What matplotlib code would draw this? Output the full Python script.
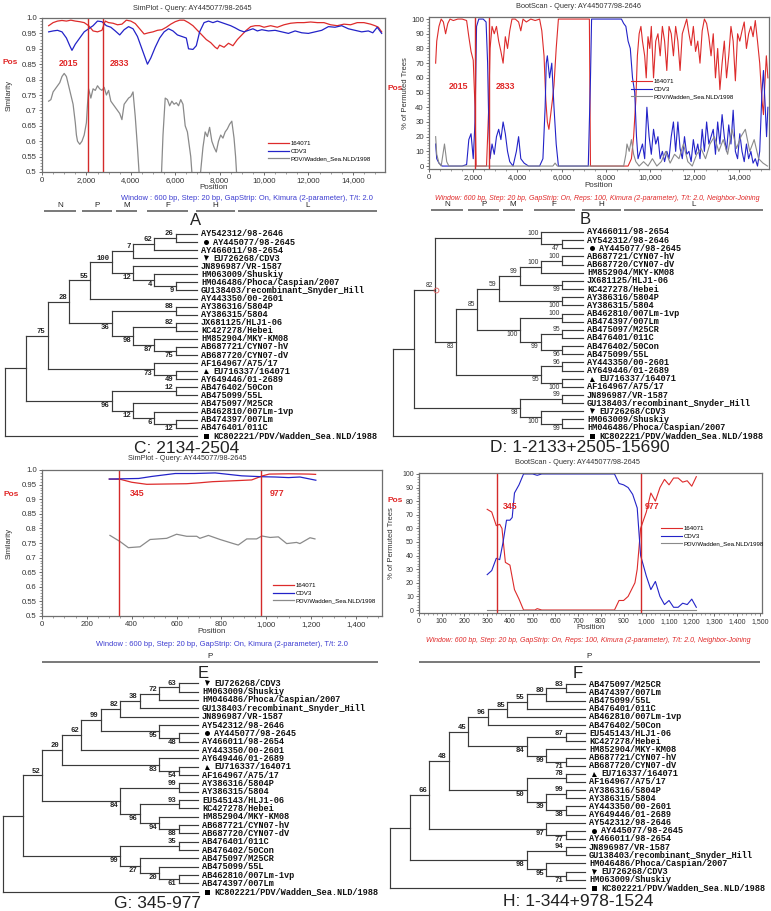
import numpy as np
import matplotlib
matplotlib.use("Agg")
import matplotlib.pyplot as plt
from matplotlib.ticker import MultipleLocator, FuncFormatter
from matplotlib.transforms import blended_transform_factory

plt.rcParams["font.family"] = ["Liberation Sans", "DejaVu Sans"]

FIG_W, FIG_H = 771, 911
nan = np.nan

series_names = ["164071", "CDV3", "PDV/Wadden_Sea.NLD/1998"]
series_colors = ["#dd2b2b", "#2323c8", "#8a8a8a"]

# ---------------- panel A : SimPlot, whole genome ----------------
a_red_x = [300, 500, 700, 900, 1100, 1300, 1500, 1700, 1900, 2100, 2300, 2500, 2700, 2850, 3000, 3200,
           3400, 3600, 3800, 4000, 4200, 4400, 4600, 4800, 5000, 5200, 5400, 5600, 5800, 6000, 6200,
           6400, 6600, 6800, 7000, 7200, 7400, 7600, 7800, 7900, 8000, 8200, 8400, 8600, 8800, 9000,
           9200, 9400, 9600, 9800, 10000, 10300, 10600, 10900, 11200, 11500, 11800, 12100, 12400,
           12700, 13000, 13300, 13600, 13900, 14200, 14500, 14800, 15000, 15150, 15300]
a_red_y = [.975, .985, .99, .992, .99, .993, .99, .988, .985, .975, .958, .955, .96, .99, .985, .983,
           .978, .98, .993, .99, .982, .965, .948, .952, .955, .96, .962, .97, .98, .988, .993,
           .993, .985, .975, .96, .945, .93, .92, .905, .9, .912, .905, .918, .91, .93, .945,
           .96, .972, .975, .975, .97, .975, .97, .978, .983, .985, .985, .987, .985,
           .985, .978, .975, .98, .978, .985, .985, .98, .975, .97, .955]
a_blue_x = [300, 500, 700, 900, 1100, 1250, 1350, 1500, 1700, 1900, 2100, 2300, 2500, 2700, 2900, 3100,
            3300, 3500, 3700, 3900, 4100, 4300, 4500, 4650, 4750, 4900, 5100, 5300, 5500, 5700, 5900,
            6100, 6300, 6500, 6600, 6800, 6950, 7100, 7300, 7500, 7700, 7900, 8100, 8300, 8500, 8700,
            8900, 9100, 9300, 9500, 9700, 9900, 10200, 10500, 10800, 11100, 11400, 11700, 12000, 12300,
            12600, 12900, 13200, 13500, 13800, 14100, 14400, 14700, 14900, 15100, 15300]
a_blue_y = [.955, .958, .96, .955, .935, .91, .895, .915, .935, .955, .965, .975, .99, .988, .975, .97,
            .958, .945, .962, .972, .965, .94, .9, .87, .85, .87, .905, .935, .955, .965, .958,
            .945, .94, .935, .9, .898, .91, .955, .985, .99, .985, .99, .985, .98, .975, .968,
            .96, .955, .96, .965, .958, .962, .958, .96, .955, .95, .958, .952, .95, .955,
            .96, .972, .97, .975, .965, .96, .955, .958, .952, .97, .95]
a_gray_x = [300, 400, 500, 600, 700, 800, 900, 1000, 1100, 1200, 1300, 1400, 1500, 1550, 1600, 1700,
            1800, 1900, 2000, 2050, 2100, 2200, 2300, 2400, 2500, 2600, 2700, 2800, 2900, 3000, 3100,
            3200, 3300, 3400, 3500, 3600, 3700, 3800, 3900, 4000, 4100, 4200, 4300, 4380, 4400,
            5380, 5450, 5550, 5650, 5750, 5850, 5950, 6050, 6150, 6250, 6350, 6450, 6550, 6700, 6760, 6800,
            7130, 7250, 7350, 7450, 7550, 7650, 7750, 7850, 7950, 8050, 8150, 8250, 8350, 8450, 8550,
            8650, 8720, 8770]
a_gray_y = [.73, .735, .76, .77, .78, .79, .81, .82, .81, .78, .75, .72, .66, .62, .6, .59,
            .6, .62, .66, .72, .77, .74, .77, .765, .78, .77, .765, .775, .75, .765, .73,
            .72, .71, .70, .69, .67, .72, .73, .74, .745, .76, .68, .58, .49, nan,
            .49, .62, .74, .735, .715, .73, .72, .725, .715, .735, .72, .65, .63, .55, .49, nan,
            .49, .58, .63, .615, .645, .6, .58, .565, .6, .62, .61, .63, .64, .655, .665,
            .61, .55, .49]
a_breaks = [2050, 2740]
a_break_labels = ["2015", "2833"]

# ---------------- panel B : BootScan, whole genome ----------------
b_red_x = [300, 350, 450, 550, 650, 750, 850, 950, 1100, 1300, 1500, 1700, 1800, 1900, 2000, 2080, 2130,
           2300, 2600, 2700, 2760, 2850, 2950, 3050, 3150, 3250, 3350, 3450, 3550, 3650, 3750, 3900,
           4050, 4150, 4250, 4400, 4600, 4800, 5000, 5100, 5200, 5280, 5350, 5420, 5500, 5580, 5650,
           5750, 5850, 6000, 6500, 7000, 7250, 7300, 7500, 8500, 9000, 9150, 9250, 9350, 9420, 9500,
           9580, 9650, 9750, 9820, 9900, 9980, 10050, 10150, 10250, 10350, 10450, 10550, 10650, 10750,
           10850, 10950, 11050, 11150, 11250, 11350, 11450, 11550, 11650, 11750, 11850, 11950, 12050,
           12150, 12250, 12350, 12450, 12550, 12650, 12750, 12850, 12950, 13050, 13150, 13250, 13350,
           13450, 13550, 13650, 13750, 13850, 13950, 14050, 14150, 14250, 14350, 14450, 14550, 14650,
           14750, 14850, 14950, 15050, 15120, 15180, 15250, 15320]
b_red_y = [70, 85, 95, 100, 98, 90, 97, 100, 99, 100, 100, 99, 88, 78, 72, 40, 0,
           0, 0, 40, 80, 95, 90, 95, 85, 78, 70, 88, 80, 92, 100, 100,
           98, 92, 100, 98, 100, 99, 100, 92, 75, 45, 30, 25, 35, 45, 55,
           80, 100, 100, 100, 100, 100, 0, 0, 0, 0, 5, 20, 45, 75, 90,
           95, 85, 75, 60, 88, 80, 95, 60, 85, 90, 75, 95, 85, 65,
           95, 90, 75, 95, 85, 65, 90, 95, 100, 90, 82, 95, 78,
           85, 70, 92, 100, 97, 88, 75, 90, 60, 80, 52, 70, 85,
           60, 75, 95, 85, 58, 90, 85, 92, 98, 80, 90, 95, 88,
           99, 85, 70, 45, 35, 55, 75, 60]
b_blue_x = [300, 350, 450, 600, 1000, 1500, 1700, 1800, 1900, 2000, 2080, 2150, 2250, 2450, 2580, 2650,
            2700, 2760, 2850, 2950, 3050, 3150, 3250, 3350, 3450, 3550, 3650, 3800, 3950, 4050, 4150,
            4300, 4500, 5000, 5150, 5250, 5300, 5350, 5450, 5550, 5650, 5750, 5850, 7200, 7300, 7350,
            8000, 8700, 8800, 8900, 9000, 9100, 9200, 9300, 9380, 9450, 9550, 9650, 9750, 9850, 9950,
            10050, 10150, 10250, 10350, 10450, 10550, 10650, 10750, 10850, 10950, 11050, 11150, 11250,
            11350, 11450, 11550, 11650, 11750, 11850, 11950, 12050, 12150, 12250, 12350, 12450, 12550,
            12650, 12750, 12850, 12950, 13050, 13150, 13250, 13350, 13450, 13550, 13650, 13750, 13850,
            13950, 14050, 14150, 14250, 14350, 14450, 14550, 14650, 14750, 14850, 14950, 15050, 15120,
            15200, 15260, 15320]
b_blue_y = [15, 5, 2, 0, 0, 0, 1, 18, 22, 5, 30, 95, 100, 100, 98, 70,
            30, 5, 15, 8, 20, 25, 18, 30, 22, 10, 3, 0, 10, 20, 5,
            2, 0, 0, 5, 40, 70, 75, 60, 70, 40, 15, 0, 0, 60, 100,
            100, 100, 97, 95, 85, 80, 60, 50, 20, 5, 10, 15, 5, 40, 20,
            8, 25, 15, 20, 5, 10, 3, 10, 5, 20, 30, 10, 30,
            12, 5, 20, 8, 10, 3, 18, 8, 15, 5, 25, 10, 30,
            15, 20, 25, 8, 30, 15, 35, 20, 10, 28, 15, 38, 10,
            5, 22, 10, 3, 15, 5, 10, 2, 5, 0, 10, 50, 65,
            40, 20, 40]
b_gray_x = [300, 350, 450, 550, 700, 800, 900, 1600, 5600, 5700, 5800, 8800, 8900, 8950, 9050, 9150,
            9250, 9350, 9500, 9700, 9900, 10100, 10300, 10500, 10700, 10900, 11100, 11300, 11500, 11700,
            11900, 12100, 12300, 12500, 12700, 12900, 13100, 13300, 13500, 13700, 13900, 14100, 14300,
            14500, 14700, 14900, 15100, 15300]
b_gray_y = [20, 8, 2, 0, 15, 3, 0, 0, 0, 2, 0, 0, 8, 15, 10, 18,
            8, 3, 0, 3, 0, 5, 0, 3, 10, 2, 8, 5, 15, 3,
            0, 8, 12, 5, 15, 20, 10, 18, 8, 25, 12, 20, 25,
            10, 18, 5, 2, 0]
b_breaks = [2060, 2730]

# gene map under the whole-genome plots
gene_names = ["N", "P", "M", "F", "H", "L"]
gene_start = [100, 1780, 3330, 4730, 6920, 8820]
gene_end = [1550, 3150, 4260, 6580, 8680, 15110]

# ---------------- panel E : SimPlot, P gene ----------------
e_red_x = [300, 350, 400, 467, 550, 645, 700, 760, 820, 880, 935, 983, 1013, 1100, 1191, 1220]
e_red_y = [.969, .968, .958, .951, .952, .953, .956, .96, .962, .964, .966, .98, .986, .987, .986, .985]
e_blue_x = [300, 431, 490, 594, 680, 772, 891, 980, 1040, 1099, 1150, 1221]
e_blue_y = [.969, .971, .978, .988, .988, .99, .98, .977, .976, .974, .976, .965]
e_gray_x = [303, 348, 385, 437, 482, 556, 600, 645, 690, 704, 742, 794, 853, 875, 913, 957, 980,
            1017, 1054, 1091, 1135, 1150, 1195, 1217]
e_gray_y = [.776, .755, .734, .737, .762, .766, .78, .773, .773, .766, .776, .762, .748, .743, .764,
            .764, .774, .769, .771, .748, .752, .748, .768, .764]
e_breaks = [345, 977]

# ---------------- panel F : BootScan, P gene ----------------
f_red_x = [300, 320, 340, 355, 365, 380, 400, 420, 440, 460, 510, 520, 540, 860, 880, 900, 920, 950,
           960, 975, 1000, 1020, 1040, 1060, 1080, 1100, 1120, 1140, 1160, 1180, 1200, 1220]
f_red_y = [74, 72, 62, 63, 60, 35, 33, 15, 8, 0, 0, 1, 0, 0, 7, 7, 10, 20,
           30, 60, 72, 86, 80, 90, 96, 92, 97, 97, 94, 95, 91, 98]
f_blue_x = [300, 320, 340, 355, 370, 385, 400, 410, 420, 440, 460, 500, 520, 540, 860, 880, 900, 920,
            940, 960, 975, 1000, 1020, 1040, 1060, 1080, 1100, 1120, 1140, 1160, 1180, 1200, 1220]
f_blue_y = [26, 29, 38, 37, 50, 66, 66, 68, 86, 92, 100, 100, 99, 100, 100, 93, 92, 90,
            85, 75, 40, 25, 15, 21, 10, 4, 7, 2, 2, 5, 4, 8, 2]
f_gray_x = [300, 1220]
f_gray_y = [0, 0]
f_breaks = [345, 977]

p_gene = ("P", 0, 1500)

# ---------------- trees ----------------
tree_c = ("", ("", ("75",
    ("28",
        ("55",
            ("100",
                ("7", ("62", ("26", "AY542312/98-2646", "AY445077/98-2645"), "AY466011/98-2654"), "EU726268/CDV3"),
                ("12", "JN896987/VR-1587",
                    ("4", "HM063009/Shuskiy", ("9", "HM046486/Phoca/Caspian/2007", "GU138403/recombinant_Snyder_Hill")))),
            "AY443350/00-2601"),
        ("36",
            ("88", "AY386316/5804P", "AY386315/5804"),
            ("98", ("82", "JX681125/HLJ1-06", "KC427278/Hebei"),
                   ("87", "HM852904/MKY-KM08", ("75", "AB687721/CYN07-hV", "AB687720/CYN07-dV"))))),
    ("73", "AF164967/A75/17", ("49", "EU716337/164071", "AY649446/01-2689"))),
    ("96", ("12", "AB476402/50Con", "AB475099/55L"),
           ("12", "AB475097/M25CR", ("6", "AB462810/007Lm-1vp", ("12", "AB474397/007Lm", "AB476401/011C"))))),
    "KC802221/PDV/Wadden_Sea.NLD/1988")

tree_d = ("", ("", ("82",
    ("100", "AY466011/98-2654", ("47", "AY542312/98-2646", "AY445077/98-2645")),
    ("83",
        ("85",
            ("59",
                ("99", ("100", ("100", "AB687721/CYN07-hV", "AB687720/CYN07-dV"), "HM852904/MKY-KM08"),
                       ("99", "JX681125/HLJ1-06", "KC427278/Hebei")),
                ("100", "AY386316/5804P", "AY386315/5804")),
            ("100", ("100", "AB462810/007Lm-1vp", "AB474397/007Lm"),
                    ("99", ("95", "AB475097/M25CR", "AB476401/011C"), ("96", "AB476402/50Con", "AB475099/55L")))),
        ("95", ("96", "AY443350/00-2601", "AY649446/01-2689"), ("100", "EU716337/164071", "AF164967/A75/17")))),
    ("98", ("99", "JN896987/VR-1587", "GU138403/recombinant_Snyder_Hill"),
           ("100", "EU726268/CDV3", ("99", "HM063009/Shuskiy", "HM046486/Phoca/Caspian/2007")))),
    "KC802221/PDV/Wadden_Sea.NLD/1988")

tree_g = ("", ("", ("52",
    ("20",
        ("62",
            ("99",
                ("82", ("38", ("72", ("63", "EU726268/CDV3", "HM063009/Shuskiy"), "HM046486/Phoca/Caspian/2007"),
                        "GU138403/recombinant_Snyder_Hill"), "JN896987/VR-1587"),
                ("95", "AY542312/98-2646", ("48", "AY445077/98-2645", "AY466011/98-2654"))),
            "AY443350/00-2601"),
        ("83", "AY649446/01-2689", ("54", "EU716337/164071", "AF164967/A75/17"))),
    ("84", ("99", "AY386316/5804P", "AY386315/5804"),
           ("96", ("93", "EU545143/HLJ1-06", "KC427278/Hebei"),
                  ("94", "HM852904/MKY-KM08", ("88", "AB687721/CYN07-hV", "AB687720/CYN07-dV"))))),
    ("99", ("35", "AB476401/011C", "AB476402/50Con"),
           ("27", "AB475097/M25CR", ("20", "AB475099/55L", ("61", "AB462810/007Lm-1vp", "AB474397/007Lm"))))),
    "KC802221/PDV/Wadden_Sea.NLD/1988")

tree_h = ("", ("", ("66",
    ("48",
        ("45",
            ("96", ("85", ("55", ("80", ("83", "AB475097/M25CR", "AB474397/007Lm"), "AB475099/55L"),
                           "AB476401/011C"), "AB462810/007Lm-1vp"), "AB476402/50Con"),
            ("84", ("87", "EU545143/HLJ1-06", "KC427278/Hebei"),
                   ("99", "HM852904/MKY-KM08", ("71", "AB687721/CYN07-hV", "AB687720/CYN07-dV")))),
        ("50", ("78", "EU716337/164071", "AF164967/A75/17"),
               ("39", ("99", "AY386316/5804P", "AY386315/5804"), ("38", "AY443350/00-2601", "AY649446/01-2689")))),
    ("97", "AY542312/98-2646", ("77", "AY445077/98-2645", "AY466011/98-2654"))),
    ("98", ("94", "JN896987/VR-1587", "GU138403/recombinant_Snyder_Hill"),
           ("95", "HM046486/Phoca/Caspian/2007", ("71", "EU726268/CDV3", "HM063009/Shuskiy")))),
    "KC802221/PDV/Wadden_Sea.NLD/1988")

leaf_markers = {"AY445077": "o", "EU726268": "v", "EU716337": "^", "KC802221": "s"}

# ------------------------------------------------------------------
fig = plt.figure(figsize=(FIG_W / 100, FIG_H / 100), dpi=100)
over = fig.add_axes([0, 0, 1, 1])
over.set_xlim(0, FIG_W)
over.set_ylim(FIG_H, 0)
over.axis("off")

RED = "#e02828"
WIN_BLUE = "#3b3bd0"


def px_axes(left, top, right, bottom):
    return fig.add_axes([left / FIG_W, 1 - bottom / FIG_H, (right - left) / FIG_W, (bottom - top) / FIG_H])


def comma(v, _):
    return f"{int(round(v)):,}"


def sim_fmt(v, _):
    return "1.0" if abs(v - 1) < 1e-9 else f"{v:g}"


def style_axes(ax, xlim, ylim, xmaj, xmin, ymaj, ymin, yfmt, ylabel, ylab_x, xlab_y, xsize=5.6):
    ax.set_xlim(*xlim)
    ax.set_ylim(*ylim)
    ax.xaxis.set_major_locator(MultipleLocator(xmaj))
    ax.xaxis.set_minor_locator(MultipleLocator(xmin))
    ax.yaxis.set_major_locator(MultipleLocator(ymaj))
    ax.yaxis.set_minor_locator(MultipleLocator(ymin))
    ax.xaxis.set_major_formatter(FuncFormatter(comma))
    ax.yaxis.set_major_formatter(FuncFormatter(yfmt))
    ax.tick_params(which="major", labelsize=xsize, length=2.2, width=0.5, pad=1.5, colors="#333")
    ax.tick_params(which="minor", length=1.2, width=0.4, colors="#555")
    for s in ax.spines.values():
        s.set_color("#6f6f6f")
        s.set_linewidth(0.9)
    ax.set_xlabel("Position", fontsize=5.8, color="#333")
    ax.set_ylabel(ylabel, fontsize=5.5, color="#333")
    ax.xaxis.set_label_coords(0.5, xlab_y)
    ax.yaxis.set_label_coords(ylab_x, 0.5)


def add_legend(ax, lines, anchor):
    ax.legend(lines, series_names, loc="upper left", bbox_to_anchor=anchor, bbox_transform=over.transData,
              frameon=False, fontsize=4.4, handlelength=3.4, handletextpad=0.3, labelspacing=0.35,
              borderpad=0, borderaxespad=0)


def gene_map(ax, names, starts, ends, bar_y):
    trans = blended_transform_factory(ax.transData, over.transData)
    for name, s, e in zip(names, starts, ends):
        over.plot([s, e], [bar_y, bar_y], transform=trans, color="#555", lw=1.1, solid_capstyle="butt")
        over.text((s + e) / 2, bar_y - 1.6, name, transform=trans, ha="center", va="bottom",
                  fontsize=5.8, color="#222")


def draw_plot(ax, series, breaks, lw):
    lines = []
    for (xs, ys), c in zip(series, series_colors):
        ln, = ax.plot(xs, ys, color=c, lw=lw)
        lines.append(ln)
    for b in breaks:
        ax.axvline(b, color="#d42a2a", lw=1.0)
    return lines


# ---- A
axA = px_axes(42, 18, 385, 172)
lines = draw_plot(axA, [(a_red_x, a_red_y), (a_blue_x, a_blue_y), (a_gray_x, a_gray_y)], a_breaks, 0.9)
style_axes(axA, (0, 15450), (0.5, 1.0), 2000, 500, 0.05, 0.01, sim_fmt, "Similarity", -0.085, -0.075)
for xb, lab in zip([1215, 3500], a_break_labels):
    axA.text(xb, 0.853, lab, color=RED, fontsize=6.3, weight="bold", ha="center", va="center")
add_legend(axA, lines, (268, 141))
gene_map(axA, gene_names, gene_start, gene_end, 210.5)

# ---- B
axB = px_axes(429, 17, 769, 169)
lines = draw_plot(axB, [(b_red_x, b_red_y), (b_blue_x, b_blue_y), (b_gray_x, b_gray_y)], b_breaks, 0.8)
style_axes(axB, (0, 15370), (-2, 101.4), 2000, 500, 10, 2, lambda v, _: f"{v:g}", "% of Permuted Trees",
           -0.058, -0.085)
for xb, lab in zip([1350, 3450], a_break_labels):
    axB.text(xb, 54, lab, color=RED, fontsize=6.3, weight="bold", ha="center", va="center")
add_legend(axB, lines, (631, 79))
gene_map(axB, gene_names, gene_start, gene_end, 210)

# ---- E
axE = px_axes(42, 470, 382, 616)
lines = draw_plot(axE, [(e_red_x, e_red_y), (e_blue_x, e_blue_y), (e_gray_x, e_gray_y)], e_breaks, 0.9)
style_axes(axE, (0, 1516), (0.5, 1.0), 200, 50, 0.05, 0.01, sim_fmt, "Similarity", -0.085, -0.085)
for xb, lab in zip([423, 1047], ["345", "977"]):
    axE.text(xb, 0.92, lab, color=RED, fontsize=6.3, weight="bold", ha="center", va="center")
add_legend(axE, lines, (273, 583))
gene_map(axE, [p_gene[0]], [p_gene[1]], [p_gene[2]], 662)

# ---- F
axF = px_axes(419, 473, 762, 613)
lines = draw_plot(axF, [(f_red_x, f_red_y), (f_blue_x, f_blue_y), (f_gray_x, f_gray_y)], f_breaks, 0.8)
style_axes(axF, (0, 1509), (-2.2, 100.7), 100, 20, 10, 2, lambda v, _: f"{v:g}", "% of Permuted Trees",
           -0.07, -0.08, xsize=5.0)
for xb, lab in zip([400, 1025], ["345", "977"]):
    axF.text(xb, 76, lab, color=RED, fontsize=6.3, weight="bold", ha="center", va="center")
add_legend(axF, lines, (661, 526))
gene_map(axF, [p_gene[0]], [p_gene[1]], [p_gene[2]], 662)

# ---- plot titles, notes, labels (figure pixel positions)
for x, y, t in [(192, 9, "SimPlot - Query: AY445077/98-2645"), (579, 6, "BootScan - Query: AY445077/98-2646"),
                (187, 459, "SimPlot - Query: AY445077/98-2645"), (577, 463, "BootScan - Query: AY445077/98-2645")]:
    over.text(x, y, t, ha="center", va="center", fontsize=5.3, color="#333")

win_sim = "Window : 600 bp, Step: 20 bp, GapStrip: On, Kimura (2-parameter), T/t: 2.0"
win_boot = ("Window: 600 bp, Step: 20 bp, GapStrip: On, Reps: 100, Kimura (2-parameter), T/t: 2.0, "
            "Neighbor-Joining")
over.text(247, 199, win_sim, ha="center", va="center", fontsize=5.4, color=WIN_BLUE)
over.text(222, 645, win_sim, ha="center", va="center", fontsize=5.4, color=WIN_BLUE)
over.text(597, 198, win_boot, ha="center", va="center", fontsize=5.0, color=RED, style="italic")
over.text(588, 640, win_boot, ha="center", va="center", fontsize=5.0, color=RED, style="italic")

for x, y in [(10, 63), (395, 89), (11, 494), (395, 500)]:
    over.text(x, y, "Pos", ha="center", va="center", fontsize=6.0, color=RED, weight="bold")

for x, y, t in [(196, 225, "A"), (585, 224, "B"), (203, 678, "E"), (578, 678, "F")]:
    over.text(x, y, t, ha="center", va="baseline", fontsize=12, color="#222")

for x, y, t in [(187, 453, "C: 2134-2504"), (580, 452, "D: 1-2133+2505-15690"),
                (158, 908, "G: 345-977"), (578, 906, "H: 1-344+978-1524")]:
    over.text(x, y, t, ha="center", va="baseline", fontsize=12.5, color="#222")


# ---- trees (topology-only layout, tips aligned)
def tree_height(n):
    if isinstance(n, str):
        return 0
    return 1 + max(tree_height(c) for c in n[1:])


def draw_tree(tree, root_x, tip_x, top_y, row_h, sup_kw, node_mark=None):
    step = (tip_x - root_x) / tree_height(tree)
    count = [0]
    lab_kw = dict(fontsize=6.2, family="Liberation Mono", weight="bold", va="center", color="#111")
    line_kw = dict(color="#3a3a3a", lw=0.85, solid_capstyle="projecting")

    def place(n):
        if isinstance(n, str):
            y = top_y + count[0] * row_h
            count[0] += 1
            mk = leaf_markers.get(n.split("/")[0])
            if mk:
                over.plot(tip_x + 9, y, marker=mk, color="black", ms=3.6, mew=0)
                over.text(tip_x + 16, y, n, **lab_kw)
            else:
                over.text(tip_x + 4, y, n, **lab_kw)
            return tip_x, y
        pts = [place(c) for c in n[1:]]
        x = tip_x - tree_height(n) * step
        ys = [p[1] for p in pts]
        over.plot([x, x], [ys[0], ys[-1]], **line_kw)
        for i, (c, (cx, cy)) in enumerate(zip(n[1:], pts)):
            over.plot([x, cx], [cy, cy], **line_kw)
            if not isinstance(c, str) and c[0]:
                if i == 0:
                    over.text(cx - 2, cy - 0.7, c[0], ha="right", va="bottom", **sup_kw)
                else:
                    over.text(cx - 2, cy + 1.0, c[0], ha="right", va="top", **sup_kw)
                if node_mark == c[0]:
                    over.plot(cx + 1, cy, marker="o", mfc="none", mec="#e06060", ms=3.5, mew=0.6)
        return x, (ys[0] + ys[-1]) / 2

    place(tree)


mono_sup = dict(fontsize=5.2, family="Liberation Mono", weight="bold", color="#222")
sans_sup = dict(fontsize=4.9, family="Liberation Sans", color="#333")

draw_tree(tree_c, 5, 197, 234, 8.07, mono_sup)
draw_tree(tree_d, 393, 583, 232, 8.15, sans_sup, node_mark="82")
draw_tree(tree_g, 3, 198, 683.3, 8.34, mono_sup)
draw_tree(tree_h, 390, 585, 684.3, 8.14, mono_sup)

fig.savefig("out.png", dpi=100)
